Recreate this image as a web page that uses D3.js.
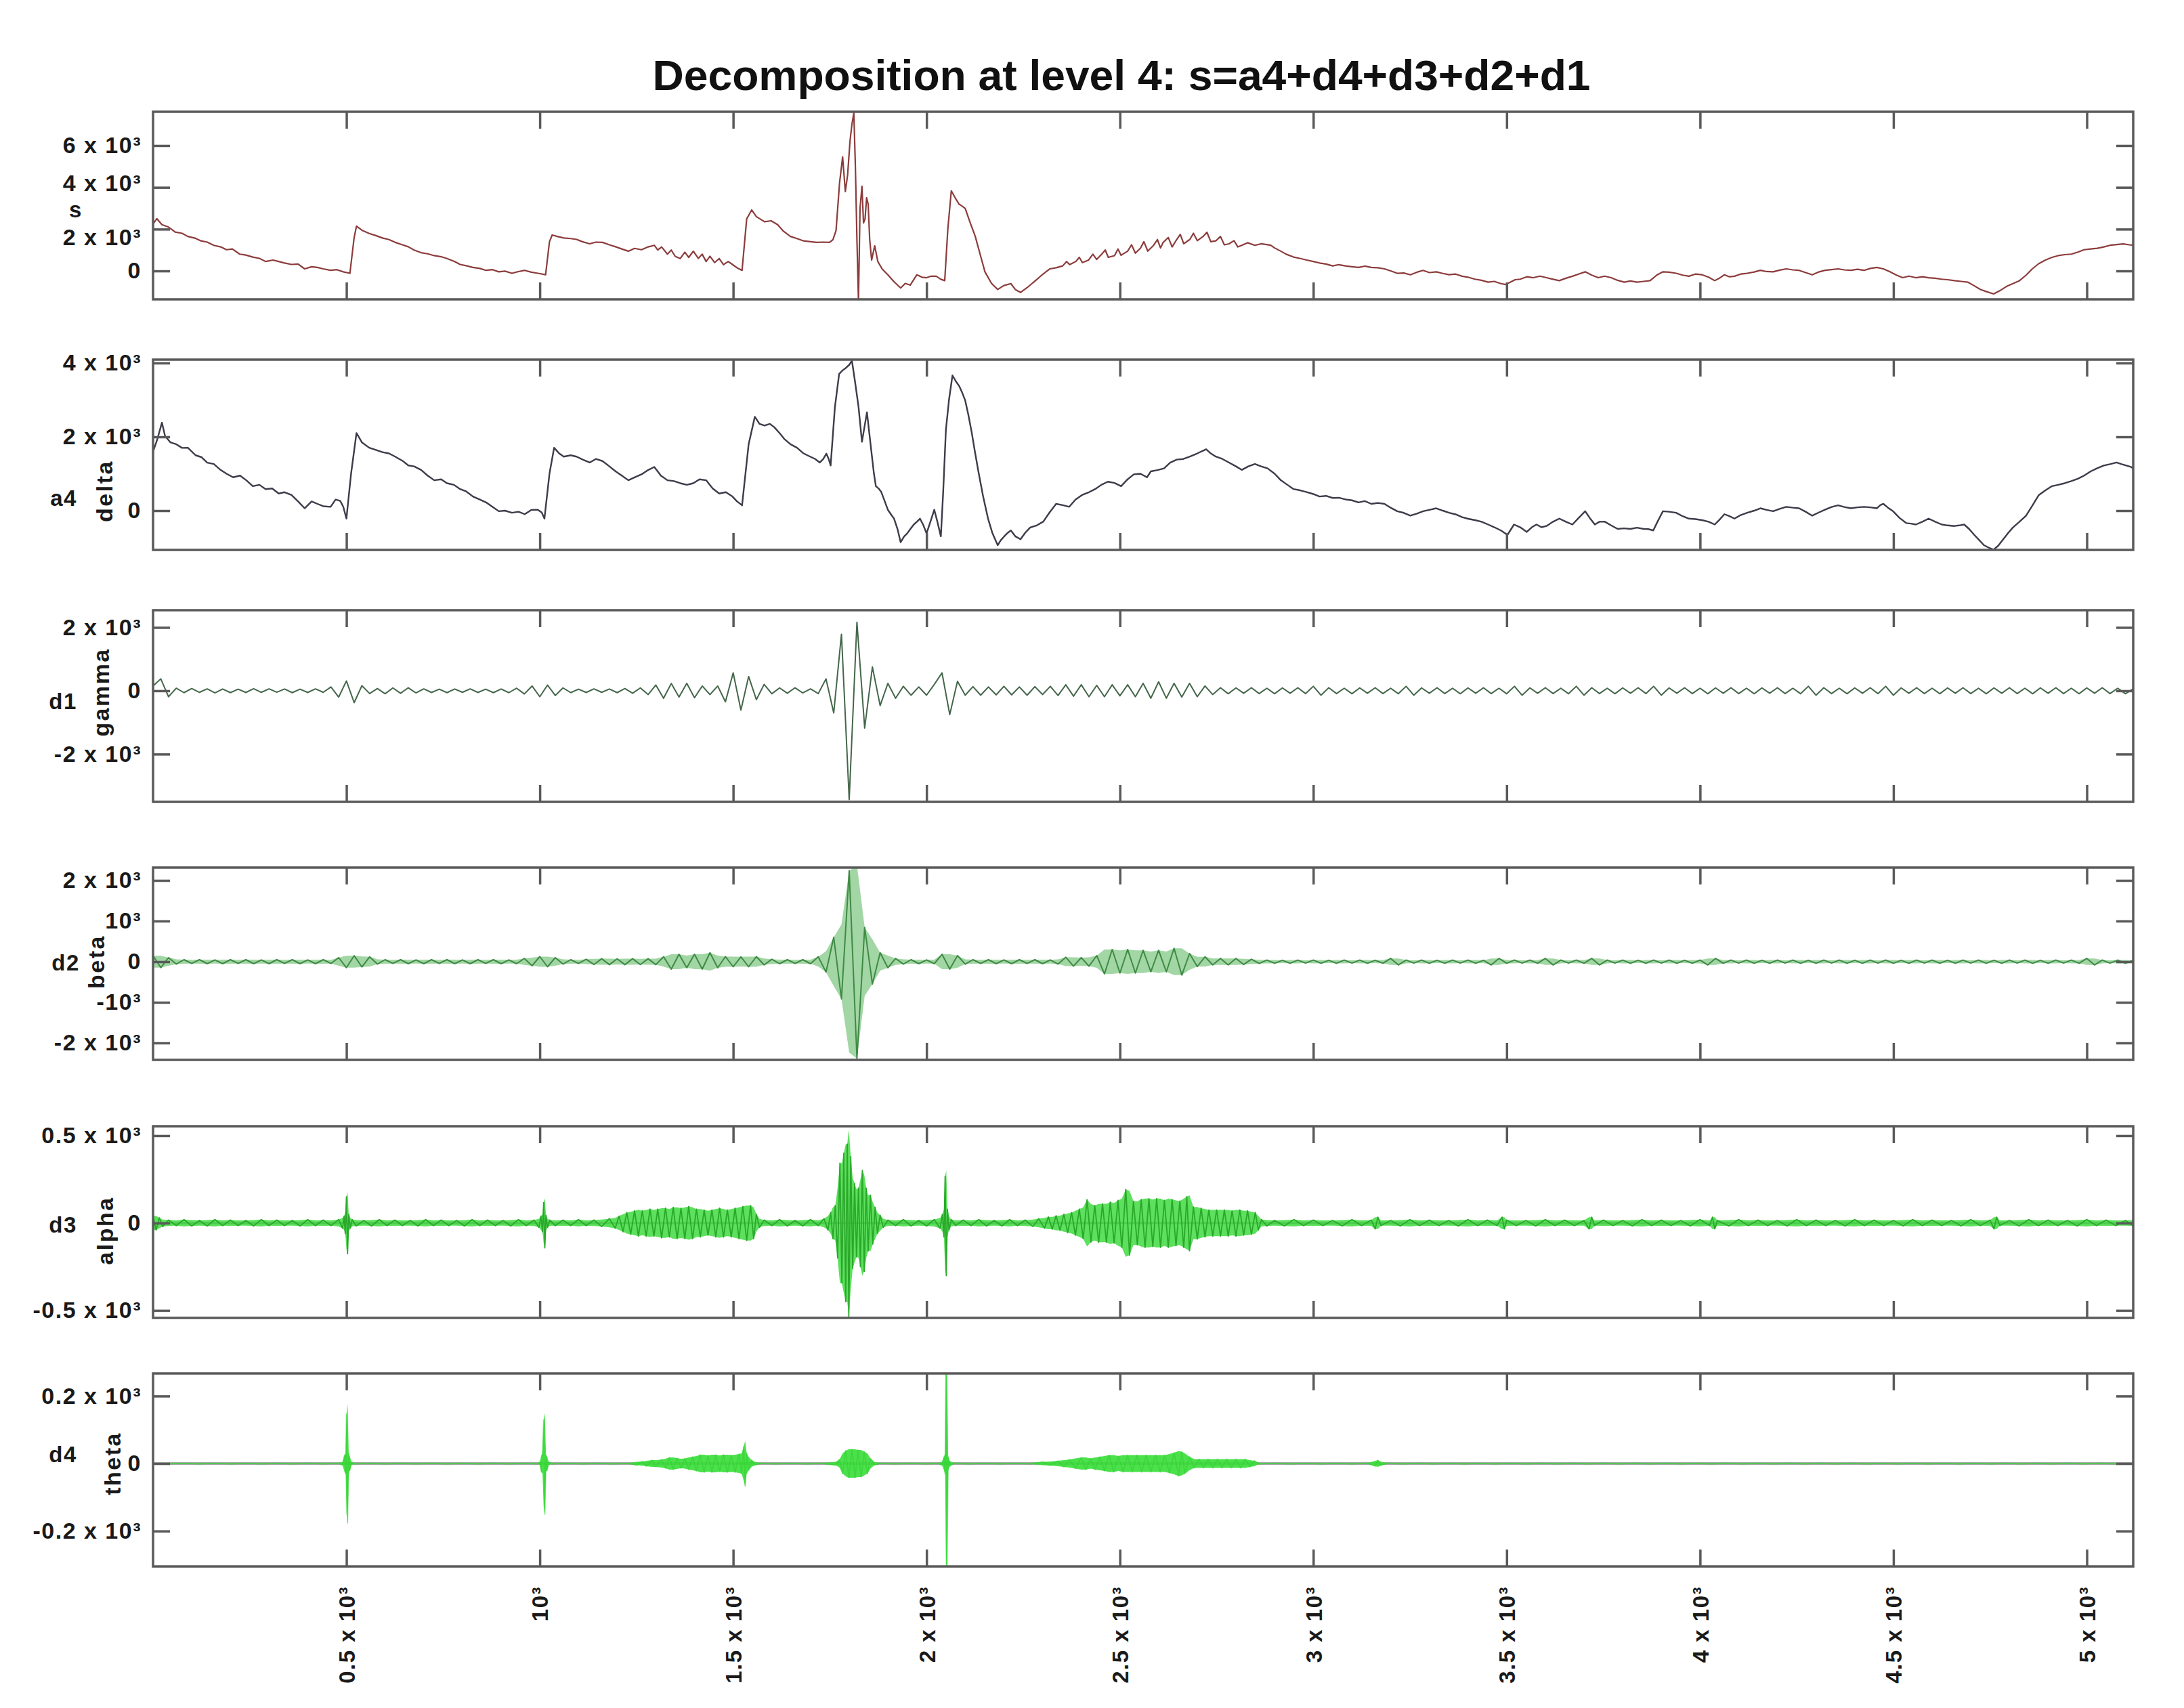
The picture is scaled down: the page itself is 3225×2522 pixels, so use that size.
<!DOCTYPE html>
<html><head><meta charset="utf-8">
<script src="https://cdn.jsdelivr.net/npm/d3@7"></script>
<style>html,body{margin:0;padding:0;background:#fff;} svg{display:block;}</style>
</head><body>
<svg id="chart" width="3225" height="2522"></svg>
<script>
// ---------------- DATA ----------------
const titleText = "Decomposition at level 4: s=a4+d4+d3+d2+d1";
const xDomain = [0, 5120];
const xTickValues = [500, 1000, 1500, 2000, 2500, 3000, 3500, 4000, 4500, 5000];
const xTickLabels = ["0.5 x 10³", "10³", "1.5 x 10³", "2 x 10³", "2.5 x 10³", "3 x 10³", "3.5 x 10³", "4 x 10³", "4.5 x 10³", "5 x 10³"];

const rowLabels = ["s", "a4", "d1", "d2", "d3", "d4"];
const bandLabels = ["", "delta", "gamma", "beta", "alpha", "theta"];

const sTicks = [0, 2000, 4000, 6000];
const sTickLabels = ["0", "2 x 10³", "4 x 10³", "6 x 10³"];
const a4Ticks = [0, 2000, 4000];
const a4TickLabels = ["0", "2 x 10³", "4 x 10³"];
const d1Ticks = [-2000, 0, 2000];
const d1TickLabels = ["-2 x 10³", "0", "2 x 10³"];
const d2Ticks = [-2000, -1000, 0, 1000, 2000];
const d2TickLabels = ["-2 x 10³", "-10³", "0", "10³", "2 x 10³"];
const d3Ticks = [-500, 0, 500];
const d3TickLabels = ["-0.5 x 10³", "0", "0.5 x 10³"];
const d4Ticks = [-200, 0, 200];
const d4TickLabels = ["-0.2 x 10³", "0", "0.2 x 10³"];

// signal s : [time, value]
const sPoints = [[0,2250],[10,2500],[23,2214],[40,2100],[57,1861],[75,1800],[90,1650],[110,1560],[124,1438],[140,1380],[157,1227],[175,1150],[190,1015],[205,1050],[224,804],[240,760],[258,663],[275,600],[291,451],[310,520],[325,451],[340,380],[358,310],[375,330],[392,99],[410,200],[425,169],[440,100],[459,28],[475,60],[492,-42],[509,-113],[520,1600],[526,2143],[540,1950],[559,1791],[575,1700],[593,1579],[610,1500],[626,1368],[645,1250],[660,1156],[675,1000],[693,874],[710,820],[727,733],[745,680],[760,592],[780,450],[794,310],[810,250],[827,169],[845,120],[861,28],[878,60],[894,-42],[910,-10],[928,-113],[945,-30],[961,28],[978,-60],[995,-113],[1015,-183],[1025,1400],[1032,1720],[1045,1650],[1062,1579],[1080,1550],[1095,1509],[1110,1400],[1129,1297],[1145,1380],[1162,1368],[1180,1250],[1196,1156],[1212,1050],[1229,945],[1245,1080],[1263,1015],[1280,1150],[1296,1227],[1305,1000],[1315,1150],[1330,804],[1340,1000],[1350,700],[1363,592],[1375,900],[1385,650],[1397,945],[1410,600],[1420,800],[1430,451],[1440,700],[1452,400],[1464,592],[1475,300],[1487,450],[1498,310],[1510,150],[1523,28],[1535,2500],[1548,2919],[1560,2600],[1581,2355],[1598,2400],[1615,2214],[1630,1900],[1648,1650],[1665,1550],[1682,1438],[1700,1400],[1715,1368],[1732,1380],[1749,1368],[1758,1500],[1766,1932],[1775,4200],[1783,5457],[1790,3800],[1796,4611],[1802,6200],[1807,7008],[1812,7572],[1816,5000],[1820,1500],[1824,-1452],[1828,3000],[1833,4047],[1837,2300],[1841,2496],[1845,3500],[1849,3201],[1853,1500],[1858,522],[1866,1200],[1874,451],[1885,100],[1900,-183],[1915,-500],[1933,-818],[1945,-600],[1958,-677],[1975,-183],[1988,-300],[2000,-324],[2012,-250],[2025,-254],[2037,-400],[2047,-465],[2055,2000],[2064,3835],[2074,3500],[2084,3201],[2092,3100],[2100,2989],[2113,2300],[2126,1650],[2140,700],[2151,-42],[2168,-600],[2184,-888],[2200,-700],[2218,-606],[2230,-900],[2243,-1029],[2260,-800],[2277,-536],[2298,-200],[2319,99],[2335,150],[2352,240],[2362,450],[2370,300],[2386,451],[2395,650],[2403,400],[2419,522],[2430,800],[2440,550],[2453,804],[2462,1000],[2470,650],[2486,733],[2495,1050],[2503,750],[2520,945],[2530,1250],[2540,850],[2553,1086],[2562,1400],[2572,950],[2587,1227],[2597,1500],[2605,1100],[2612,1368],[2625,1600],[2635,1150],[2647,1509],[2656,1750],[2665,1300],[2681,1509],[2690,1800],[2700,1450],[2715,1650],[2725,1850],[2735,1400],[2748,1438],[2760,1650],[2770,1250],[2782,1297],[2795,1450],[2805,1150],[2815,1227],[2830,1350],[2849,1227],[2865,1300],[2890,1227],[2900,1100],[2916,945],[2930,800],[2949,663],[2965,600],[2983,522],[3000,450],[3016,381],[3033,330],[3050,240],[3066,300],[3083,240],[3100,200],[3117,169],[3133,230],[3150,169],[3167,150],[3184,99],[3200,0],[3217,-113],[3234,-100],[3251,-183],[3268,-60],[3284,28],[3300,-80],[3318,-42],[3335,-120],[3351,-183],[3368,-150],[3385,-254],[3400,-300],[3418,-395],[3435,-450],[3452,-536],[3468,-500],[3485,-606],[3497,-650],[3510,-536],[3522,-420],[3535,-395],[3552,-280],[3569,-324],[3586,-250],[3603,-324],[3620,-400],[3636,-465],[3653,-350],[3670,-254],[3686,-150],[3703,-42],[3720,-200],[3737,-324],[3753,-250],[3770,-324],[3787,-450],[3804,-536],[3820,-480],[3837,-536],[3854,-500],[3871,-465],[3888,-200],[3904,-42],[3920,-60],[3938,-113],[3955,-200],[3971,-254],[3988,-150],[4005,-183],[4022,-300],[4038,-465],[4050,-350],[4063,-183],[4076,-280],[4089,-254],[4105,-150],[4122,-113],[4140,-50],[4156,28],[4172,-30],[4189,-42],[4206,40],[4223,99],[4240,50],[4256,28],[4273,-80],[4290,-183],[4307,-50],[4323,28],[4340,60],[4357,99],[4373,50],[4390,28],[4407,80],[4424,28],[4440,120],[4457,169],[4474,100],[4491,-42],[4508,-200],[4524,-324],[4540,-250],[4558,-324],[4575,-280],[4591,-324],[4608,-350],[4625,-395],[4640,-420],[4658,-465],[4675,-500],[4692,-536],[4708,-700],[4725,-888],[4742,-1000],[4759,-1100],[4775,-950],[4792,-747],[4810,-600],[4826,-465],[4843,-200],[4859,99],[4876,350],[4893,522],[4910,650],[4926,733],[4943,780],[4960,804],[4977,900],[4993,1015],[5010,1050],[5027,1086],[5044,1150],[5060,1227],[5077,1260],[5094,1297],[5110,1250],[5120,1227]];

// approximation a4 (delta) : [time, value]
const a4Points = [[0,1600],[10,1900],[23,2384],[31,2024],[45,1850],[60,1800],[75,1700],[90,1704],[110,1500],[125,1450],[140,1300],[157,1264],[175,1100],[190,1000],[207,904],[225,950],[241,824],[258,664],[275,700],[291,584],[308,600],[325,464],[340,500],[358,424],[375,250],[392,64],[410,250],[425,184],[440,120],[459,104],[472,300],[484,264],[492,100],[500,-216],[512,1000],[526,2104],[540,1850],[559,1704],[575,1650],[593,1584],[610,1550],[626,1464],[645,1350],[660,1224],[675,1200],[693,1104],[710,950],[727,824],[745,850],[760,744],[778,700],[794,584],[810,520],[827,384],[845,300],[861,224],[878,100],[894,-16],[910,0],[928,-56],[945,-30],[961,-96],[978,20],[995,24],[1005,-50],[1012,-216],[1025,1000],[1037,1704],[1050,1550],[1062,1464],[1080,1500],[1095,1464],[1112,1380],[1129,1304],[1145,1400],[1162,1344],[1180,1200],[1196,1064],[1212,950],[1229,824],[1245,900],[1263,984],[1280,1100],[1296,1184],[1313,950],[1330,824],[1347,800],[1363,744],[1380,700],[1397,744],[1413,850],[1430,824],[1447,600],[1464,464],[1481,500],[1498,384],[1510,250],[1523,144],[1540,1800],[1556,2544],[1568,2350],[1581,2304],[1595,2350],[1606,2264],[1620,2100],[1632,1944],[1648,1800],[1665,1704],[1682,1550],[1699,1464],[1712,1400],[1724,1304],[1733,1400],[1741,1544],[1747,1400],[1752,1224],[1763,2800],[1774,3704],[1783,3800],[1791,3864],[1800,3950],[1807,4064],[1815,3500],[1824,2824],[1833,1864],[1840,2300],[1846,2664],[1852,2100],[1858,1544],[1864,1000],[1869,664],[1876,600],[1883,504],[1892,250],[1900,24],[1908,-100],[1916,-216],[1925,-500],[1933,-856],[1942,-700],[1950,-616],[1958,-500],[1967,-376],[1975,-300],[1983,-216],[1992,-400],[2000,-616],[2010,-300],[2020,24],[2028,-300],[2037,-696],[2043,500],[2050,2184],[2058,3000],[2067,3664],[2076,3500],[2084,3384],[2092,3200],[2100,2984],[2108,2600],[2117,2104],[2125,1600],[2134,1064],[2146,400],[2159,-216],[2170,-600],[2184,-936],[2192,-800],[2201,-696],[2210,-600],[2218,-536],[2230,-700],[2243,-776],[2255,-600],[2268,-456],[2285,-400],[2302,-296],[2318,-50],[2335,184],[2352,150],[2369,104],[2385,300],[2402,424],[2420,500],[2436,584],[2452,700],[2469,784],[2486,750],[2503,664],[2520,850],[2536,984],[2553,1000],[2570,904],[2580,1064],[2597,1100],[2614,1144],[2630,1300],[2647,1384],[2664,1400],[2681,1464],[2700,1550],[2723,1664],[2735,1550],[2748,1464],[2765,1400],[2782,1304],[2800,1200],[2815,1104],[2832,1200],[2849,1264],[2865,1200],[2882,1144],[2900,1000],[2916,824],[2933,700],[2949,584],[2966,550],[2983,504],[3000,450],[3016,384],[3033,400],[3050,344],[3066,350],[3083,304],[3100,280],[3117,224],[3133,260],[3150,184],[3167,210],[3184,184],[3200,80],[3217,-16],[3234,-60],[3251,-136],[3268,-80],[3284,-16],[3300,20],[3318,64],[3335,0],[3351,-56],[3368,-100],[3385,-176],[3400,-220],[3418,-256],[3435,-300],[3452,-376],[3468,-450],[3485,-536],[3502,-656],[3519,-376],[3535,-450],[3552,-576],[3565,-450],[3577,-376],[3590,-450],[3603,-416],[3620,-300],[3636,-216],[3653,-300],[3670,-376],[3686,-200],[3703,-16],[3715,-200],[3728,-376],[3740,-300],[3753,-296],[3770,-400],[3787,-496],[3803,-480],[3820,-496],[3837,-460],[3854,-496],[3866,-500],[3879,-536],[3890,-300],[3904,-16],[3920,-30],[3938,-56],[3955,-150],[3971,-216],[3988,-230],[4005,-256],[4022,-300],[4038,-376],[4050,-250],[4063,-96],[4076,-150],[4089,-216],[4105,-120],[4122,-56],[4140,0],[4156,64],[4172,20],[4189,-16],[4206,50],[4223,104],[4240,80],[4256,64],[4273,-30],[4290,-136],[4307,-50],[4323,24],[4340,100],[4357,144],[4373,100],[4390,64],[4407,90],[4424,104],[4440,90],[4457,64],[4466,150],[4474,184],[4486,80],[4499,-16],[4516,-200],[4533,-336],[4545,-350],[4558,-376],[4575,-300],[4591,-216],[4608,-300],[4625,-376],[4640,-400],[4658,-416],[4670,-400],[4683,-376],[4696,-500],[4709,-656],[4722,-800],[4734,-936],[4746,-1000],[4759,-1056],[4771,-950],[4784,-776],[4797,-600],[4809,-456],[4826,-300],[4843,-136],[4860,150],[4876,424],[4893,550],[4910,664],[4926,700],[4943,744],[4960,800],[4977,864],[4993,950],[5010,1064],[5027,1150],[5044,1224],[5060,1260],[5077,1304],[5090,1260],[5102,1224],[5115,1180],[5120,1144]];

// detail d1 and d2: one value every 20 samples (0 .. 5120)
const detailStep = 20;
const d1Values = [
150,376,-188,80,-60,70,-50,60,-70,55,
-60,50,-55,65,-50,60,-45,55,-60,50,
-55,60,-50,120,-200,310,-376,160,-90,70,
-94,90,-80,94,-70,60,-55,50,-60,55,
-50,60,-55,50,-60,55,-60,80,-100,150,
-188,180,-150,90,-60,50,-55,60,-50,55,
-60,70,-80,90,-120,180,-235,230,-200,235,
-220,150,-120,150,-350,565,-612,450,-282,200,
-94,90,-80,94,-70,60,-90,376,-700,1788,
-3435,2164,-1176,753,-470,235,-235,141,-141,120,
-141,200,565,-753,300,-141,130,-141,120,-130,
141,-130,120,-141,130,-120,141,-150,188,-170,
188,-188,170,-188,188,-160,188,-188,235,-235,
282,-235,235,-200,235,-188,150,-120,94,-94,
90,-80,94,-90,80,-94,90,-80,94,-90,
141,-141,94,-90,80,-94,90,-80,94,-90,
80,-94,141,-141,90,-80,94,-90,80,-94,
90,-80,94,-90,80,-94,141,-141,90,-80,
94,-90,80,-94,141,-141,94,-90,80,-94,
90,-80,94,-90,141,-141,90,-80,94,-90,
80,-94,90,-80,94,-90,80,-94,90,-80,
94,-90,80,-94,141,-141,94,-90,80,-94,
90,-80,94,-90,141,-141,90,-80,94,-90,
80,-94,90,-80,94,-90,80,-94,90,-80,
94,-90,80,-94,90,-80,94,-90,80,-94,
90,-80,94,-90,80,-94,60];

const d2Values = [
147,-147,100,-60,50,-45,50,-50,45,-50,
50,-45,50,-50,45,-50,50,-45,50,-50,
45,-50,50,-45,100,-147,147,-130,120,-60,
50,-45,50,-50,45,-50,50,-45,50,-50,
45,-50,50,-45,50,-50,45,-50,80,-100,
125,-125,100,-60,50,-45,60,-70,73,-73,
70,-73,73,-70,73,-73,120,-183,183,-150,
183,-183,220,-150,125,-125,120,-125,125,-80,
60,-50,50,-45,50,-50,120,-257,600,-916,
2236,-2382,843,-550,220,-150,80,-60,50,-50,
45,-50,183,-183,150,-60,50,-45,50,-50,
45,-50,50,-45,50,-50,45,-60,110,-110,
100,-110,150,-300,300,-280,300,-280,280,-250,
280,-250,330,-330,200,-120,120,-80,80,-80,
80,-70,60,-45,40,-40,35,-40,40,-35,
40,-40,35,-40,40,-35,40,-40,35,-40,
80,-80,40,-35,40,-40,35,-40,40,-35,
40,-40,35,-80,80,-40,40,-35,40,-40,
80,-80,40,-35,40,-40,80,-80,40,-35,
40,-40,35,-40,40,-35,40,-40,35,-40,
40,-80,80,-40,40,-35,40,-40,35,-40,
40,-35,40,-40,35,-40,40,-35,40,-40,
35,-40,40,-35,40,-40,35,-40,40,-35,
40,-40,35,-40,40,-35,40,-40,35,-40,
40,-35,40,-40,35,-40,40,-35,40,-40,
80,-80,40,-35,40,-40,35];

// detail d3 (alpha) : [time, value]
const d3Points = [[0,40],[8,-40],[16,30],[25,-20],[40,17],[60,-15],[80,20],[100,-17],[120,15],[140,-17],[160,20],[180,-15],[200,17],[220,-15],[240,15],[260,-17],[280,20],[300,-15],[320,17],[340,-15],[360,15],[380,-17],[400,20],[420,-15],[440,17],[460,-15],[480,20],[490,-30],
[494,40],[497,-60],[500,150],[503,-176],[506,50],[510,-30],[515,20],[525,-17],
[545,15],[565,-17],[585,20],[605,-15],[625,17],[645,-15],[665,15],[685,-17],[705,20],[725,-15],[745,17],[765,-15],[785,15],[805,-17],[825,20],[845,-15],[865,17],[885,-15],[905,15],[925,-17],[945,20],[965,-15],[985,17],[998,-25],
[1003,40],[1007,-50],[1010,117],[1013,-142],[1016,45],[1020,-25],[1026,17],[1040,-15],
[1060,17],[1080,-15],[1100,20],[1120,-15],[1140,17],[1160,-20],[1180,25],[1195,-30],
[1205,40],[1215,-50],[1225,60],[1235,-65],[1245,70],[1255,-75],[1265,70],[1275,-75],[1285,80],[1295,-75],[1305,80],[1315,-85],[1325,85],[1335,-80],[1345,90],[1355,-90],[1365,85],[1375,-90],[1385,95],[1395,-90],[1405,80],[1415,-80],[1425,75],[1435,-70],[1445,75],[1455,-80],[1465,85],[1475,-80],[1485,75],[1495,-80],[1505,85],[1515,-90],[1525,95],[1535,-100],[1545,100],[1553,-90],[1560,50],[1568,-25],[1580,17],
[1600,-15],[1620,20],[1640,-17],[1660,15],[1680,-17],[1700,20],[1720,-15],[1735,25],[1745,-40],
[1752,60],[1758,-90],[1764,100],[1770,-200],[1776,343],[1781,-343],[1786,400],[1791,-450],[1795,452],[1799,-536],[1804,380],[1809,-260],[1814,226],[1819,-193],[1824,200],[1829,-250],[1834,301],[1839,-276],[1844,200],[1849,-160],[1855,160],[1861,-120],[1867,90],[1873,-60],[1880,45],[1888,-25],[1900,17],
[1920,-15],[1940,20],[1960,-17],[1980,15],[2000,-17],[2020,20],[2035,-30],
[2041,50],[2045,-80],[2048,268],[2051,-301],[2054,80],[2058,-40],[2064,20],[2075,-15],
[2095,17],[2115,-15],[2135,20],[2155,-17],[2175,15],[2195,-17],[2215,20],[2235,-15],[2255,17],[2275,-20],[2290,25],[2305,-30],
[2315,35],[2325,-35],[2335,42],[2345,-42],[2355,50],[2365,-55],[2375,60],[2385,-70],[2395,80],[2405,-90],[2415,134],[2425,-109],[2435,100],[2445,-110],[2455,110],[2465,-110],[2475,120],[2485,-115],[2495,130],[2505,-140],[2515,193],[2525,-184],[2535,125],[2545,-125],[2555,135],[2565,-140],[2575,140],[2585,-135],[2595,140],[2605,-140],[2615,130],[2625,-140],[2635,135],[2645,-130],[2655,126],[2665,-140],[2673,151],[2680,-159],[2690,92],[2700,-92],[2710,85],[2720,-80],[2730,75],[2740,-75],[2750,75],[2760,-75],[2770,75],[2780,-75],[2790,70],[2800,-75],[2810,75],[2820,-70],[2830,70],[2840,-65],[2850,60],[2858,-40],[2866,20],[2880,-17],
[2900,15],[2925,-17],[2950,20],[2975,-15],[3000,17],[3025,-15],[3050,15],[3075,-17],[3100,20],[3125,-15],[3150,17],[3160,-34],[3167,34],[3175,-15],[3200,15],[3225,-17],[3250,20],[3275,-15],[3300,17],[3325,-15],[3350,15],[3375,-17],[3400,20],[3425,-15],[3450,17],[3475,-15],[3488,34],[3494,-34],[3500,17],[3525,-15],[3550,15],[3575,-17],[3600,20],[3625,-15],[3650,17],[3675,-15],[3700,15],[3713,-34],[3720,34],[3727,-15],[3750,17],[3775,-15],[3800,15],[3825,-17],[3850,20],[3875,-15],[3900,17],[3925,-15],[3950,15],[3975,-17],[4000,20],[4025,-15],[4032,34],[4038,-34],[4045,15],[4075,-17],[4100,20],[4125,-15],[4150,17],[4175,-15],[4200,15],[4225,-17],[4250,20],[4275,-15],[4300,17],[4325,-15],[4350,15],[4375,-17],[4400,20],[4425,-15],[4450,17],[4475,-15],[4500,15],[4525,-17],[4550,20],[4575,-15],[4600,17],[4625,-15],[4650,15],[4675,-17],[4700,20],[4725,-15],[4750,17],[4760,-34],[4767,34],[4775,-15],[4800,15],[4825,-17],[4850,20],[4875,-15],[4900,17],[4925,-15],[4950,15],[4975,-17],[5000,20],[5025,-15],[5050,17],[5075,-15],[5100,15],[5120,-17]];

// detail d4 (theta) : [time, value]
const d4Points = [[0,1],[40,-1],[80,1],[120,-1],[160,1],[200,-1],[240,1],[280,-1],[320,1],[360,-1],[400,1],[440,-1],[480,1],
[490,-5],[495,25],[498,-30],[500,146],[503,-176],[506,30],[509,-20],[513,5],[520,-1],
[560,1],[600,-1],[640,1],[680,-1],[720,1],[760,-1],[800,1],[840,-1],[880,1],[920,-1],[960,1],[995,-1],
[1000,5],[1004,-25],[1007,30],[1010,129],[1013,-150],[1016,25],[1019,-20],[1023,5],[1030,-1],
[1070,1],[1110,-1],[1150,1],[1190,-1],[1230,1],
[1250,-5],[1265,6],[1275,-8],[1290,10],[1300,-10],[1315,12],[1325,-14],[1335,18],[1345,-18],[1355,16],[1365,-14],[1375,15],[1385,-18],[1395,20],[1405,-22],[1415,26],[1425,-26],[1435,24],[1445,-26],[1455,26],[1465,-24],[1475,26],[1485,-26],[1495,25],[1505,-26],[1515,28],[1522,-30],[1527,50],[1531,-67],[1535,30],[1540,-20],[1548,10],[1556,-5],[1570,1],
[1610,-1],[1650,1],[1690,-1],[1730,1],[1765,-5],
[1775,12],[1783,-30],[1791,38],[1799,-42],[1807,42],[1815,-42],[1823,40],[1831,-40],[1839,35],[1847,-30],[1855,15],[1865,-5],[1880,1],
[1920,-1],[1960,1],[2000,-1],[2030,1],
[2040,-5],[2045,20],[2048,-30],[2050,300],[2053,-306],[2056,20],[2060,-8],[2070,1],
[2110,-1],[2150,1],[2190,-1],[2230,1],[2270,-1],[2300,5],
[2320,-6],[2340,8],[2355,-10],[2370,12],[2385,-15],[2400,18],[2412,-18],[2424,15],[2436,-18],[2448,20],[2460,-22],[2472,25],[2484,-25],[2496,22],[2508,-25],[2520,25],[2532,-25],[2544,25],[2556,-25],[2568,25],[2580,-25],[2592,25],[2604,-25],[2616,25],[2628,-28],[2640,32],[2652,-37],[2660,35],[2668,-30],[2680,20],[2692,-13],[2704,13],[2716,-13],[2728,13],[2740,-13],[2752,13],[2764,-13],[2776,13],[2788,-13],[2800,13],[2812,-13],[2824,13],[2836,-10],[2848,8],[2860,-1],
[2900,1],[2940,-1],[2980,1],[3020,-1],[3060,1],[3100,-1],[3140,1],[3160,-8],[3167,10],[3174,-6],[3190,1],
[3230,-1],[3270,1],[3310,-1],[3350,1],[3390,-1],[3430,1],[3470,-1],[3510,1],[3550,-1],[3590,1],[3630,-1],[3670,1],[3710,-1],[3750,1],[3790,-1],[3830,1],[3870,-1],[3910,1],[3950,-1],[3990,1],[4030,-1],[4070,1],[4110,-1],[4150,1],[4190,-1],[4230,1],[4270,-1],[4310,1],[4350,-1],[4390,1],[4430,-1],[4470,1],[4510,-1],[4550,1],[4590,-1],[4630,1],[4670,-1],[4710,1],[4750,-1],[4790,1],[4830,-1],[4870,1],[4910,-1],[4950,1],[4990,-1],[5030,1],[5070,-1],[5110,1],[5120,-1]];

// ---------------- LAYOUT / STYLE ----------------
const W = 3225, H = 2522;
const plotLeft = 226, plotRight = 3150;
const FONT = "'Liberation Sans', Arial, Helvetica, sans-serif";
const frameColor = "#5a5a5a";
const toPts = vals => vals.map((v, i) => [i * detailStep, v]);

const panels = [
  {top:165,  bottom:442,  domain:[-1360, 7620], ticks:sTicks,  labels:sTickLabels,  pts:sPoints,         color:"#8c3c3c", width:2.2, name:{x:112,y:309}, band:null, labelShift:{2000:12, 4000:-6}},
  {top:531,  bottom:812,  domain:[-1064, 4092], ticks:a4Ticks, labels:a4TickLabels, pts:a4Points,        color:"#3c3c4a", width:2.4, name:{x:94,y:735},  band:{x:154,y:725}},
  {top:901,  bottom:1184, domain:[-3510, 2545], ticks:d1Ticks, labels:d1TickLabels, pts:toPts(d1Values), color:"#44664a", width:2.0, name:{x:93,y:1035}, band:{x:149,y:1022}},
  {top:1281, bottom:1565, domain:[-2417, 2317], ticks:d2Ticks, labels:d2TickLabels, pts:toPts(d2Values), color:"#3f8a45", width:2.0, name:{x:97,y:1421}, band:{x:142,y:1420}, env:{c:"#55b55a",o:0.55}},
  {top:1663, bottom:1946, domain:[-543, 554],   ticks:d3Ticks, labels:d3TickLabels, pts:d3Points,        color:"#2aa82a", width:1.8, name:{x:93,y:1808}, band:{x:155,y:1817}, zero:{c:"#9a9a9a",w:3}, env:{c:"#35d835",o:0.8}},
  {top:2028, bottom:2313, domain:[-305, 267],   ticks:d4Ticks, labels:d4TickLabels, pts:d4Points,        color:"#2ccf2c", width:1.8, name:{x:93,y:2147}, band:{x:166,y:2161}, zero:{c:"#a8a8a8",w:4}, env:{c:"#38de38",o:0.9}, lineOpacity:0.5}
];

// ---------------- DRAW ----------------
const svg = d3.select("#chart");
svg.append("rect").attr("width", W).attr("height", H).attr("fill", "#fff");

const x = d3.scaleLinear().domain(xDomain).range([plotLeft, plotRight]);

svg.append("text")
  .attr("x", 1656).attr("y", 133)
  .attr("text-anchor", "middle")
  .attr("font-family", FONT).attr("font-weight", "bold").attr("font-size", 63)
  .attr("textLength", 1385).attr("lengthAdjust", "spacingAndGlyphs")
  .attr("fill", "#111")
  .text(titleText);

function styleAxis(g) {
  g.select(".domain").remove();
  g.selectAll(".tick line").attr("stroke", frameColor).attr("stroke-width", 3.5);
  g.selectAll(".tick text").attr("fill", "#1a1a1a")
    .attr("font-family", FONT).attr("font-weight", "bold");
}

panels.forEach((p, k) => {
  const y = d3.scaleLinear().domain(p.domain).range([p.bottom, p.top]);
  const g = svg.append("g");
  const cid = "clip" + k;
  svg.append("clipPath").attr("id", cid).append("rect")
    .attr("x", plotLeft).attr("y", p.top)
    .attr("width", plotRight - plotLeft).attr("height", p.bottom - p.top);
  const plot = g.append("g").attr("clip-path", `url(#${cid})`);

  if (p.zero) {
    plot.append("line").attr("x1", plotLeft).attr("x2", plotRight)
      .attr("y1", y(0)).attr("y2", y(0))
      .attr("stroke", p.zero.c).attr("stroke-width", p.zero.w);
  }
  if (p.env) {
    // oscillation band: mirrored envelope of the coefficient magnitude
    plot.append("path").datum(p.pts)
      .attr("d", d3.area().x(d => x(d[0])).y0(d => y(-Math.abs(d[1]))).y1(d => y(Math.abs(d[1]))))
      .attr("fill", p.env.c).attr("fill-opacity", p.env.o);
  }
  plot.append("path").datum(p.pts)
    .attr("d", d3.line().x(d => x(d[0])).y(d => y(d[1])))
    .attr("fill", "none").attr("stroke", p.color)
    .attr("stroke-opacity", p.lineOpacity || 1)
    .attr("stroke-width", p.width).attr("stroke-linejoin", "round");

  // left axis with labels
  const fmt = d => p.labels[p.ticks.indexOf(d)];
  const gl = g.append("g").attr("transform", `translate(${plotLeft},0)`)
    .call(d3.axisLeft(y).tickValues(p.ticks).tickFormat(fmt).tickSize(-25).tickPadding(17));
  styleAxis(gl);
  gl.selectAll(".tick text").attr("font-size", 34).attr("letter-spacing", 1.5);
  if (p.labelShift) {
    gl.selectAll(".tick text").attr("y", d => p.labelShift[d] || 0);
  }

  // right axis (ticks only)
  const gr = g.append("g").attr("transform", `translate(${plotRight},0)`)
    .call(d3.axisRight(y).tickValues(p.ticks).tickFormat("").tickSize(-25));
  styleAxis(gr);

  // top axis
  const gt = g.append("g").attr("transform", `translate(0,${p.top})`)
    .call(d3.axisTop(x).tickValues(xTickValues).tickFormat("").tickSize(-25));
  styleAxis(gt);

  // bottom axis
  const last = k === panels.length - 1;
  const gb = g.append("g").attr("transform", `translate(0,${p.bottom})`)
    .call(d3.axisBottom(x).tickValues(xTickValues)
      .tickFormat(last ? (d => xTickLabels[xTickValues.indexOf(d)]) : "")
      .tickSize(-25));
  styleAxis(gb);
  if (last) {
    gb.selectAll(".tick text")
      .attr("transform", "rotate(-90)")
      .attr("text-anchor", "end")
      .attr("x", -29).attr("y", 0).attr("dy", "0.36em")
      .attr("font-size", 33).attr("letter-spacing", 1.5);
  }

  // frame
  g.append("rect").attr("x", plotLeft).attr("y", p.top)
    .attr("width", plotRight - plotLeft).attr("height", p.bottom - p.top)
    .attr("fill", "none").attr("stroke", frameColor).attr("stroke-width", 3.5);

  // row name
  g.append("text").attr("x", p.name.x).attr("y", p.name.y)
    .attr("dy", "0.35em").attr("text-anchor", "middle")
    .attr("font-family", FONT).attr("font-weight", "bold").attr("font-size", 33)
    .attr("letter-spacing", 1.5).attr("fill", "#1a1a1a")
    .text(rowLabels[k]);

  // band name (rotated)
  if (p.band && bandLabels[k]) {
    g.append("text")
      .attr("transform", `translate(${p.band.x},${p.band.y}) rotate(-90)`)
      .attr("dy", "0.35em").attr("text-anchor", "middle")
      .attr("font-family", FONT).attr("font-weight", "bold").attr("font-size", 34)
      .attr("letter-spacing", 2.5).attr("fill", "#1a1a1a")
      .text(bandLabels[k]);
  }
});
</script>
</body></html>
